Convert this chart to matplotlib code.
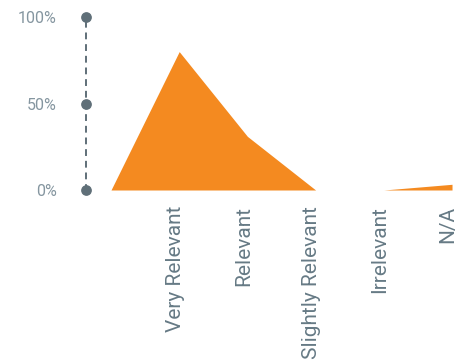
import matplotlib
matplotlib.use('Agg')
import matplotlib.pyplot as plt
import matplotlib.transforms as mtransforms

categories = ['', 'Very Relevant', 'Relevant', 'Slightly Relevant', 'Irrelevant', 'N/A']
values = [0, 80, 31, 0, 0, 3.3]
yticks = [0, 50, 100]
ytick_labels = ['0%', '50%', '100%']

orange = '#f48a20'
axis_grey = '#5f6f78'
text_grey = '#667a85'

plt.rcParams['font.family'] = ['Roboto', 'DejaVu Sans']

fig = plt.figure(figsize=(4.66, 3.6), dpi=100)
ax = fig.add_axes([80 / 466, 165 / 360, 380 / 466, 185 / 360])

x = list(range(len(categories)))
ax.fill_between(x, values, 0, color=orange, linewidth=0)

ax.set_xlim(-0.4545, 5.117)
ax.set_ylim(-2.89, 104.05)

# y axis: dashed line with dots at the ticks
for s in ['top', 'right', 'bottom']:
    ax.spines[s].set_visible(False)
ax.spines['left'].set_position(('data', -0.3666))
ax.spines['left'].set_bounds(0, 100)
ax.spines['left'].set_linestyle((0, (2.5, 3.5)))
ax.spines['left'].set_linewidth(1.4)
ax.spines['left'].set_color(axis_grey)
ax.scatter([-0.3666] * len(yticks), yticks, s=45, color=axis_grey, zorder=5, clip_on=False)

ax.set_yticks(yticks)
ax.set_yticklabels(ytick_labels, color='#8596a0', fontsize=11.5)
ax.tick_params(axis='y', length=0, pad=21)

ax.set_xticks(x)
ax.set_xticklabels(categories, rotation=90, ha='center', va='top',
                   color=text_grey, fontsize=15)
ax.tick_params(axis='x', length=0, pad=8)
offset = mtransforms.ScaledTranslation(-4 / 100, 0, fig.dpi_scale_trans)
for lbl in ax.get_xticklabels():
    lbl.set_transform(lbl.get_transform() + offset)

fig.savefig('out.png', dpi=100)
